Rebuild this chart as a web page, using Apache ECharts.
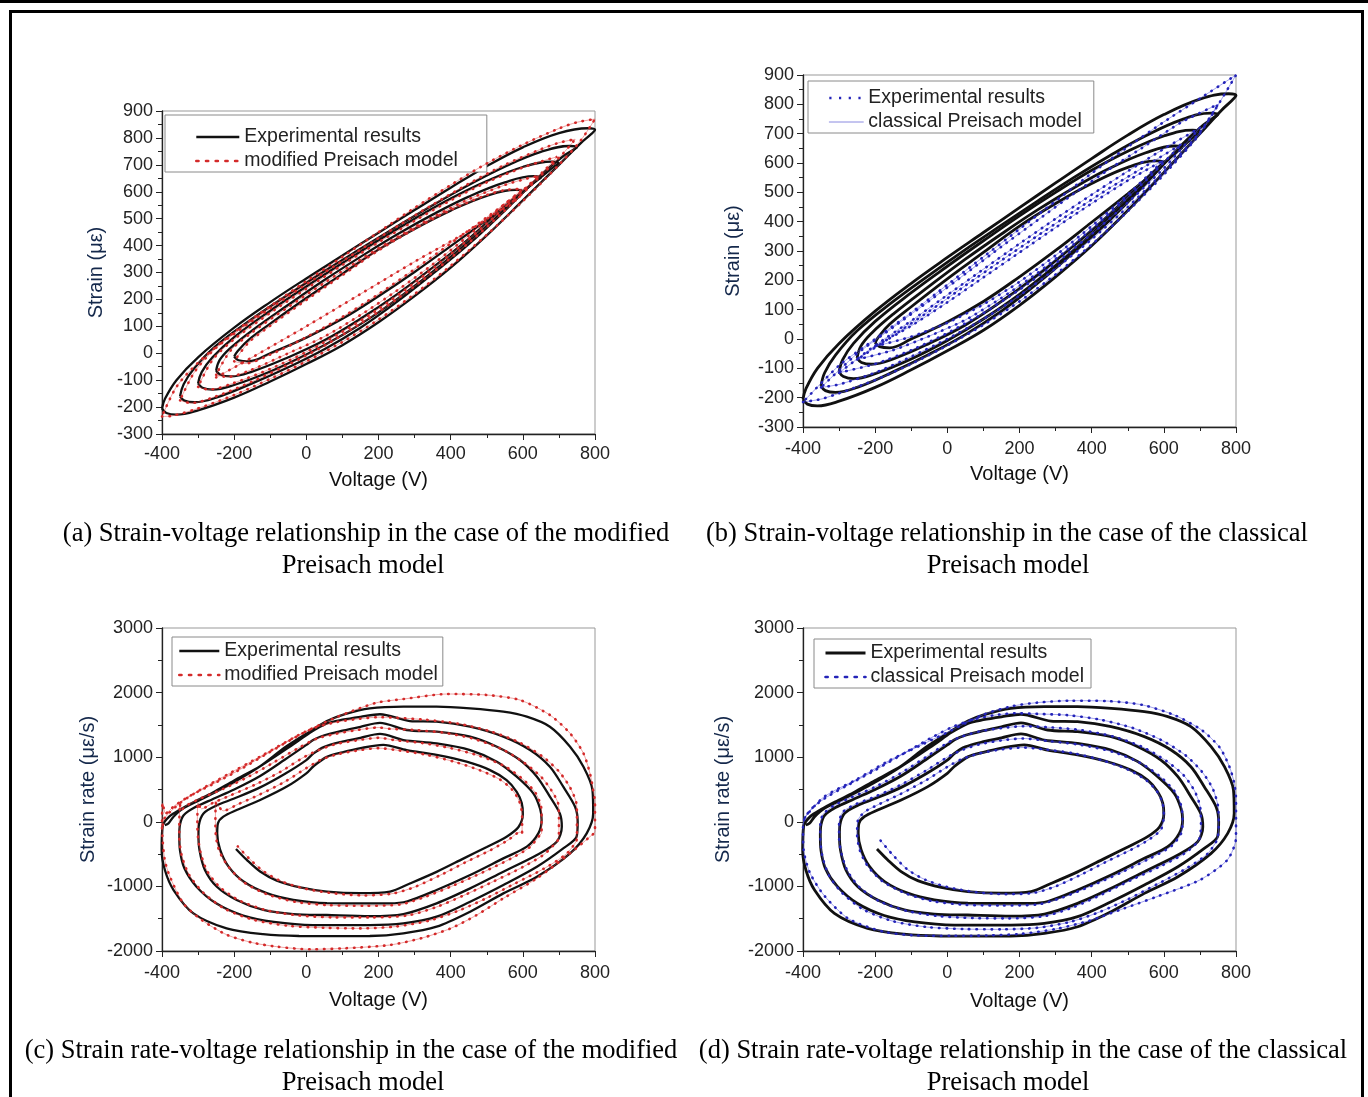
<!DOCTYPE html>
<html>
<head>
<meta charset="utf-8">
<script src="https://cdn.jsdelivr.net/npm/echarts@6/dist/echarts.min.js"></script>
<style>
  body { margin: 0; background: #fff; width: 1368px; height: 1097px; overflow: hidden; position: relative; }
  #rule { position: absolute; left: 0; top: 0; width: 1368px; height: 3px; background: #000; }
  #box { position: absolute; left: 9px; top: 10px; width: 1349px; height: 1200px; border: 3px solid #000; border-bottom: none; }
  #chart { position: absolute; left: 0; top: 0; width: 1368px; height: 1097px; }
  .cap { position: absolute; font-family: "Liberation Serif", "Times New Roman", serif; font-size: 26.5px; line-height: 28px; color: #000; white-space: nowrap; transform: translateX(-50%); }
</style>
</head>
<body>
<div id="rule"></div>
<div id="box"></div>
<div id="chart"></div>
<div class="cap" style="left:366px;top:518px">(a) Strain-voltage relationship in the case of the modified</div>
<div class="cap" style="left:363px;top:550px">Preisach model</div>
<div class="cap" style="left:1007px;top:518px">(b) Strain-voltage relationship in the case of the classical</div>
<div class="cap" style="left:1008px;top:550px">Preisach model</div>
<div class="cap" style="left:351px;top:1035px">(c) Strain rate-voltage relationship in the case of the modified</div>
<div class="cap" style="left:363px;top:1067px">Preisach model</div>
<div class="cap" style="left:1023px;top:1035px">(d) Strain rate-voltage relationship in the case of the classical</div>
<div class="cap" style="left:1008px;top:1067px">Preisach model</div>
<script>
// ---- strain loops [voltage V, strain με], outer to inner ----
const expLoop1 = [[-400,-205],[-388,-222],[-360,-228],[-300,-212],[-200,-165],[-100,-105],[0,-40],[100,30],[200,115],[300,212],[400,318],[500,438],[600,568],[700,700],[760,780],[790,815],[800,830],[780,836],[700,818],[600,765],[500,695],[400,615],[300,532],[200,448],[100,363],[0,278],[-100,190],[-200,95],[-300,-15],[-360,-100],[-392,-170],[-400,-205]];
const expLoop2 = [[-350,-160],[-338,-176],[-310,-182],[-250,-165],[-150,-112],[-50,-52],[50,15],[150,95],[250,190],[350,295],[450,405],[550,530],[650,662],[710,730],[740,756],[750,765],[730,770],[650,748],[550,693],[450,625],[350,550],[250,470],[150,388],[50,305],[-50,218],[-150,128],[-250,28],[-310,-55],[-340,-115],[-350,-160]];
const expLoop3 = [[-300,-112],[-288,-128],[-260,-135],[-200,-118],[-100,-68],[0,-5],[100,68],[200,152],[300,250],[400,358],[500,472],[600,598],[660,665],[690,697],[700,706],[680,712],[600,692],[500,640],[400,575],[300,500],[200,420],[100,335],[0,248],[-100,158],[-200,60],[-260,-15],[-290,-70],[-300,-112]];
const expLoop4 = [[-250,-65],[-238,-80],[-210,-86],[-150,-68],[-50,-15],[50,48],[150,128],[250,218],[350,318],[450,425],[550,545],[610,612],[640,643],[650,652],[630,658],[550,635],[450,582],[350,515],[250,440],[150,358],[50,272],[-50,180],[-150,85],[-210,20],[-240,-25],[-250,-65]];
const expLoop5 = [[-200,-12],[-188,-26],[-160,-30],[-100,0],[0,58],[100,128],[200,212],[300,302],[400,398],[500,495],[560,555],[590,590],[600,602],[580,607],[500,585],[400,530],[300,462],[200,385],[100,295],[0,205],[-100,110],[-160,50],[-190,8],[-200,-12]];

// modified Preisach model (a)
const modLoop1 = [[-400,-235],[-370,-232],[-300,-205],[-200,-155],[-100,-95],[0,-30],[100,42],[200,125],[300,220],[400,325],[500,440],[600,565],[700,700],[760,790],[800,870],[750,858],[700,835],[600,775],[500,705],[400,625],[300,540],[200,450],[100,358],[0,268],[-100,175],[-200,78],[-300,-35],[-360,-125],[-400,-235]];
const modLoop2 = [[-350,-175],[-320,-185],[-250,-160],[-150,-105],[-50,-42],[50,28],[150,110],[250,200],[350,300],[450,410],[550,530],[650,660],[710,740],[745,795],[700,782],[650,758],[550,700],[450,630],[350,552],[250,470],[150,385],[50,300],[-50,212],[-150,120],[-250,20],[-310,-70],[-350,-175]];
const modLoop3 = [[-300,-125],[-270,-135],[-200,-110],[-100,-58],[0,5],[100,80],[200,165],[300,262],[400,368],[500,482],[600,605],[660,680],[695,730],[650,712],[600,690],[500,635],[400,568],[300,492],[200,412],[100,328],[0,240],[-100,150],[-200,52],[-260,-25],[-300,-125]];
const modLoop4 = [[-250,-80],[-220,-88],[-150,-60],[-50,0],[50,62],[150,142],[250,232],[350,330],[450,438],[550,555],[610,615],[645,660],[600,645],[550,625],[450,572],[350,505],[250,430],[150,348],[50,262],[-50,172],[-150,78],[-210,10],[-250,-80]];
const modLoop5 = [[-200,-30],[-170,-38],[-100,-5],[0,60],[100,135],[200,220],[300,312],[400,408],[500,505],[560,565],[598,610],[560,608],[500,588],[400,532],[300,462],[200,382],[100,290],[0,198],[-100,102],[-160,40],[-200,-30]];
const modVirgin = [[-250,-90],[-150,-15],[0,100],[150,220],[300,340],[450,455],[600,590]];

// classical Preisach model (b)
const clsLoop1 = [[-400,-215],[-350,-205],[-300,-185],[-200,-140],[-100,-85],[0,-22],[100,48],[200,128],[300,220],[400,322],[500,435],[600,560],[700,700],[800,900],[700,820],[600,740],[500,655],[400,565],[300,470],[200,375],[100,280],[0,185],[-100,90],[-200,0],[-300,-90],[-400,-215]];
const clsLoop2 = [[-350,-165],[-300,-155],[-200,-115],[-100,-60],[0,0],[100,68],[200,148],[300,240],[400,340],[500,450],[600,570],[700,705],[750,800],[650,740],[550,660],[450,580],[350,495],[250,405],[150,315],[50,222],[-50,130],[-150,40],[-250,-50],[-350,-165]];
const clsLoop3 = [[-300,-115],[-200,-85],[-100,-38],[0,20],[100,88],[200,168],[300,258],[400,358],[500,465],[600,582],[700,720],[600,648],[500,572],[400,492],[300,410],[200,325],[100,238],[0,150],[-100,62],[-200,-22],[-300,-115]];
const clsLoop4 = [[-250,-70],[-150,-38],[-50,10],[50,65],[150,140],[250,225],[350,322],[450,428],[550,540],[650,665],[550,590],[450,515],[350,435],[250,352],[150,268],[50,182],[-50,95],[-150,12],[-250,-70]];
const clsLoop5 = [[-200,-25],[-100,8],[0,55],[100,118],[200,195],[300,285],[400,385],[500,492],[600,610],[500,540],[400,462],[300,380],[200,295],[100,210],[0,125],[-100,45],[-200,-25]];

// ---- strain rate spirals [voltage V, strain rate με/s] ----
const expRate = [[-195,-420],[-165,-590],[-128,-770],[-82,-910],[-17,-1015],[57,-1080],[149,-1105],[232,-1080],[287,-955],[361,-775],[435,-570],[500,-390],[555,-230],[588,-80],[600,120],
[597,290],[583,465],[555,645],[509,800],[444,930],[361,1035],[278,1110],[213,1190],[150,1140],[100,1075],[57,1005],[20,860],[0,750],[-54,545],[-128,337],[-193,182],[-230,80],[-245,-25],
[-247,-180],[-239,-430],[-216,-690],[-174,-925],[-110,-1105],[-36,-1210],[57,-1260],[150,-1262],[230,-1262],[280,-1230],[361,-1056],[454,-824],[546,-566],[611,-385],[643,-179],[652,28],
[648,200],[629,440],[583,698],[528,931],[454,1111],[361,1214],[269,1266],[204,1360],[150,1300],[100,1240],[50,1160],[20,1060],[0,955],[-60,740],[-128,533],[-200,360],[-250,250],[-285,130],[-298,-60],
[-299,-200],[-296,-440],[-281,-745],[-248,-1005],[-193,-1210],[-119,-1365],[-36,-1428],[57,-1443],[176,-1460],[269,-1428],[361,-1262],[454,-1030],[546,-772],[639,-514],[694,-308],[708,-76],
[703,120],[675,389],[639,698],[592,956],[528,1163],[454,1318],[361,1395],[278,1421],[204,1530],[150,1470],[100,1410],[50,1340],[20,1270],[0,1190],[-60,960],[-128,709],[-200,500],[-260,350],[-310,220],[-340,100],[-350,-40],
[-352,-200],[-350,-450],[-338,-720],[-305,-1000],[-250,-1260],[-175,-1450],[-90,-1550],[19,-1598],[176,-1598],[269,-1572],[361,-1469],[454,-1237],[546,-978],[639,-695],[712,-411],[749,-230],[752,0],
[745,230],[712,544],[675,853],[620,1111],[546,1318],[454,1472],[361,1550],[287,1560],[204,1665],[150,1625],[100,1580],[57,1524],[10,1380],[-36,1200],[-128,860],[-200,640],[-260,450],[-310,310],[-350,190],[-380,80],[-398,-60],
[-401,-437],[-392,-746],[-368,-1056],[-313,-1417],[-221,-1649],[-120,-1740],[-20,-1768],[80,-1770],[176,-1768],[269,-1727],[361,-1624],[454,-1391],[546,-1108],[639,-850],[731,-488],[777,-179],[795,131],
[793,492],[768,853],[731,1163],[675,1472],[611,1627],[546,1705],[454,1756],[361,1782],[269,1782],[176,1756],[107,1668],[57,1560],[10,1400],[-60,1150],[-128,860],[-221,550],[-295,337],[-341,208],[-368,79],[-382,-24],[-392,-50]];

const modRate = [[-190,-380],[-160,-560],[-120,-760],[-70,-920],[0,-1040],[80,-1110],[160,-1140],[240,-1110],[300,-1010],[370,-830],[440,-630],[510,-440],[560,-280],[592,-160],[598,-180],[598,100],
[590,320],[570,500],[535,660],[480,800],[410,930],[330,1040],[250,1110],[200,1140],[150,1110],[90,1050],[40,960],[0,830],[-60,620],[-130,420],[-190,270],[-230,170],[-250,290],[-252,-30],
[-250,-250],[-240,-470],[-215,-700],[-175,-930],[-110,-1120],[-30,-1240],[60,-1290],[160,-1300],[260,-1280],[330,-1160],[410,-980],[490,-780],[570,-560],[620,-390],[648,-200],[652,-180],[652,80],
[650,250],[635,450],[600,660],[550,860],[480,1020],[400,1140],[320,1220],[250,1260],[200,1300],[140,1260],[80,1200],[30,1100],[-10,990],[-70,780],[-140,580],[-210,410],[-260,290],[-290,200],[-300,290],[-302,-50],
[-300,-250],[-292,-500],[-275,-760],[-240,-1010],[-185,-1220],[-110,-1370],[-20,-1450],[80,-1480],[180,-1480],[280,-1450],[360,-1320],[440,-1130],[520,-920],[600,-700],[660,-500],[695,-300],[700,-250],[700,60],
[698,280],[680,480],[650,700],[600,930],[540,1130],[460,1290],[380,1380],[300,1420],[230,1440],[200,1460],[140,1420],[80,1360],[30,1290],[-20,1150],[-90,920],[-160,700],[-230,510],[-290,370],[-330,260],[-348,180],[-350,280],[-352,0],
[-352,-250],[-345,-530],[-325,-820],[-285,-1100],[-225,-1350],[-145,-1520],[-50,-1610],[50,-1640],[150,-1650],[250,-1620],[340,-1530],[420,-1380],[500,-1180],[580,-950],[660,-720],[720,-500],[748,-300],[750,-200],[750,80],
[748,300],[730,540],[700,780],[655,1010],[590,1230],[510,1400],[420,1520],[330,1580],[250,1610],[200,1620],[140,1590],[80,1540],[20,1450],[-40,1280],[-110,1050],[-190,790],[-260,580],[-320,410],[-365,250],[-390,130],[-398,290],[-400,-50],
[-398,-300],[-392,-600],[-378,-850],[-341,-1262],[-290,-1520],[-220,-1750],[-150,-1870],[-82,-1933],[10,-1974],[103,-1959],[232,-1907],[320,-1800],[400,-1650],[470,-1450],[546,-1185],[639,-875],[731,-488],[786,-230],[800,-150],[800,200],
[800,300],[795,492],[786,750],[768,1060],[731,1369],[675,1653],[592,1885],[500,1963],[389,1978],[269,1900],[200,1850],[149,1760],[84,1620],[10,1430],[-36,1300],[-128,1010],[-221,724],[-295,492],[-350,290],[-396,30],[-398,-80]];

const clsRate = [[-185,-290],[-150,-520],[-110,-740],[-60,-900],[0,-1010],[80,-1090],[160,-1120],[240,-1100],[300,-1000],[370,-820],[440,-620],[510,-430],[560,-270],[592,-120],[600,100],
[596,300],[580,480],[550,650],[500,810],[430,950],[350,1060],[270,1120],[210,1150],[150,1120],[90,1060],[40,970],[0,850],[-60,640],[-130,430],[-190,270],[-230,150],[-248,20],
[-250,-200],[-242,-450],[-220,-690],[-180,-920],[-115,-1110],[-40,-1230],[50,-1285],[150,-1295],[250,-1280],[320,-1170],[400,-990],[480,-790],[560,-570],[620,-380],[648,-180],[652,50],
[648,250],[630,470],[590,700],[535,910],[460,1080],[370,1190],[280,1250],[210,1290],[150,1260],[90,1200],[40,1110],[0,1000],[-60,790],[-130,570],[-200,390],[-255,270],[-290,150],[-300,-30],
[-300,-250],[-293,-500],[-276,-770],[-242,-1020],[-188,-1230],[-112,-1380],[-25,-1460],[70,-1490],[170,-1495],[270,-1460],[350,-1320],[430,-1120],[510,-900],[590,-690],[660,-480],[697,-280],[703,-20],
[700,250],[685,480],[655,720],[605,950],[540,1160],[460,1320],[370,1420],[290,1460],[210,1480],[150,1450],[90,1400],[40,1320],[0,1220],[-60,1000],[-130,750],[-200,540],[-265,380],[-315,250],[-345,110],[-352,-60],
[-352,-260],[-346,-540],[-328,-830],[-290,-1110],[-232,-1360],[-150,-1540],[-55,-1630],[45,-1660],[150,-1665],[250,-1640],[340,-1550],[420,-1400],[500,-1200],[580,-970],[660,-730],[720,-500],[748,-270],[752,-20],
[750,250],[735,520],[705,780],[660,1030],[595,1260],[515,1450],[425,1580],[335,1650],[250,1670],[190,1680],[130,1650],[70,1580],[15,1470],[-45,1300],[-120,1060],[-200,800],[-275,570],[-335,380],[-375,210],[-395,60],[-400,-100],
[-398,-450],[-380,-800],[-340,-1150],[-274,-1500],[-178,-1700],[-83,-1760],[12,-1765],[110,-1760],[203,-1735],[300,-1660],[394,-1530],[490,-1340],[585,-1150],[700,-900],[776,-590],[800,-250],[800,100],
[800,350],[795,600],[782,850],[755,1150],[705,1420],[630,1650],[540,1810],[440,1870],[340,1875],[250,1845],[180,1790],[100,1660],[12,1417],[-64,1211],[-159,954],[-255,646],[-341,389],[-393,80],[-400,-40]];

const strainTicks = { min: -300, max: 900, interval: 100 };
const rateTicks = { min: -2000, max: 3000, interval: 1000 };

const FONT = 'Liberation Sans, Arial, sans-serif';
const RED = '#d42a2a', BLUE = '#2424b8';

const chart = echarts.init(document.getElementById('chart'));

const grids = [
  { left: 162, top: 111, width: 433, height: 323 },
  { left: 803, top: 75, width: 433, height: 352 },
  { left: 162, top: 628, width: 433, height: 323 },
  { left: 803, top: 628, width: 433, height: 323 }
];

function xAx(i, margin, gap) {
  return {
    gridIndex: i, type: 'value', min: -400, max: 800, interval: 200,
    name: 'Voltage (V)', nameLocation: 'middle', nameGap: gap,
    nameTextStyle: { fontSize: 20, color: '#111', fontFamily: FONT },
    axisLine: { onZero: false, lineStyle: { color: '#222', width: 1.3 } },
    axisTick: { length: 6, lineStyle: { color: '#222' } },
    minorTick: { show: true, splitNumber: 2, length: 4, lineStyle: { color: '#222' } },
    splitLine: { show: false },
    axisLabel: { fontSize: 18, color: '#222', margin: margin, fontFamily: FONT, formatter: v => String(v) }
  };
}
function yAx(i, t, name, gap) {
  return {
    gridIndex: i, type: 'value', min: t.min, max: t.max, interval: t.interval,
    name: name, nameLocation: 'middle', nameGap: gap,
    nameTextStyle: { fontSize: 20, color: '#14284b', fontFamily: FONT },
    axisLine: { onZero: false, lineStyle: { color: '#222', width: 1.3 } },
    axisTick: { length: 6, lineStyle: { color: '#222' } },
    minorTick: { show: true, splitNumber: 2, length: 4, lineStyle: { color: '#222' } },
    splitLine: { show: false },
    axisLabel: { fontSize: 18, color: '#222', margin: 9, fontFamily: FONT, formatter: v => String(v) }
  };
}

function blackLine(data, gi, w, sm) {
  return { type: 'line', name: 'Experimental results', xAxisIndex: gi, yAxisIndex: gi, data: data,
    smooth: sm, symbol: 'none', lineStyle: { color: '#111', width: w }, z: 3 };
}
function thinLine(data, gi, color, sm) {
  return { type: 'line', xAxisIndex: gi, yAxisIndex: gi, data: data, smooth: sm, symbol: 'none',
    lineStyle: { color: color, width: 0.9 }, z: 4 };
}
function dotLine(name, data, gi, color, sm) {
  return { type: 'line', name: name, xAxisIndex: gi, yAxisIndex: gi, data: data, smooth: sm, symbol: 'none',
    lineStyle: { color: color, width: 2.6, type: [0.5, 7], cap: 'round' }, z: 5 };
}

const expLoops = [expLoop1, expLoop2, expLoop3, expLoop4, expLoop5];
const modLoops = [modLoop1, modLoop2, modLoop3, modLoop4, modLoop5, modVirgin];
const clsLoops = [clsLoop1, clsLoop2, clsLoop3, clsLoop4, clsLoop5];

const series = [];
expLoops.forEach(l => series.push(blackLine(l, 0, 2.3, 0.4)));
modLoops.forEach(l => {
  series.push(thinLine(l, 0, 'rgba(225,70,70,0.55)', 0.3));
  series.push(dotLine('modified Preisach model', l, 0, RED, 0.3));
});
expLoops.forEach(l => series.push(blackLine(l, 1, 2.8, 0.4)));
clsLoops.forEach(l => {
  series.push(thinLine(l, 1, 'rgba(80,80,225,0.6)', 0.2));
  series.push(dotLine('classical Preisach model', l, 1, BLUE, 0.2));
});
series.push(blackLine(expRate, 2, 2.3, 0.3));
series.push(thinLine(modRate, 2, 'rgba(225,70,70,0.55)', 0.25));
series.push(dotLine('modified Preisach model', modRate, 2, RED, 0.25));
series.push(blackLine(expRate, 3, 2.8, 0.3));
series.push(thinLine(clsRate, 3, 'rgba(80,80,225,0.6)', 0.25));
series.push(dotLine('classical Preisach model', clsRate, 3, BLUE, 0.25));

function legend(left, top, pad, iw, items) {
  return {
    orient: 'vertical', left: left, top: top, padding: pad, itemWidth: iw, itemHeight: 14, itemGap: 4,
    borderColor: '#8a8a8a', borderWidth: 1, backgroundColor: '#fff', selectedMode: false,
    textStyle: { fontSize: 19.5, lineHeight: 20, color: '#222', fontFamily: FONT },
    data: items.map(it => Object.assign({ itemStyle: { opacity: 0 } }, it))
  };
}
const solidBlack = w => ({ color: '#111', width: w, type: 'solid' });
const dots = c => ({ color: c, width: 2.6, type: [2.2, 7.5] });

chart.setOption({
  animation: false,
  textStyle: { fontFamily: FONT },
  grid: grids.map(g => Object.assign({ show: true, borderColor: '#999', borderWidth: 1, backgroundColor: 'transparent' }, g)),
  xAxis: [xAx(0, 11, 36), xAx(1, 13, 37), xAx(2, 13, 39), xAx(3, 13, 40)],
  yAxis: [
    yAx(0, strainTicks, 'Strain (με)', 56),
    yAx(1, strainTicks, 'Strain (με)', 60),
    yAx(2, rateTicks, 'Strain rate (με/s)', 64),
    yAx(3, rateTicks, 'Strain rate (με/s)', 70)
  ],
  legend: [
    legend(165, 115, [12, 29, 1, 30], 43, [
      { name: 'Experimental results', lineStyle: solidBlack(2.5) },
      { name: 'modified Preisach model', lineStyle: dots(RED) }]),
    legend(808, 81, [7, 12, 1, 20], 34, [
      { name: 'Experimental results', lineStyle: dots(BLUE) },
      { name: 'classical Preisach model', lineStyle: { color: '#8a8ae0', width: 1, type: 'solid' } }]),
    legend(172, 637, [4, 5, 1, 6], 40, [
      { name: 'Experimental results', lineStyle: solidBlack(2.5) },
      { name: 'modified Preisach model', lineStyle: dots(RED) }]),
    legend(814, 639, [4, 7, 1, 10], 40, [
      { name: 'Experimental results', lineStyle: solidBlack(3) },
      { name: 'classical Preisach model', lineStyle: dots(BLUE) }])
  ],
  series: series
});
</script>
</body>
</html>
